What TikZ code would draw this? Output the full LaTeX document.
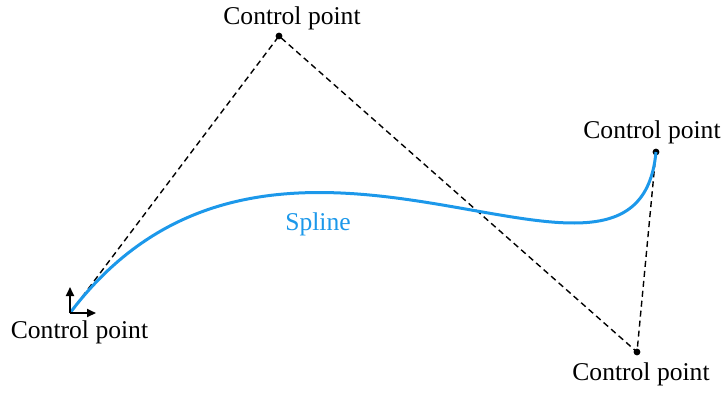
\documentclass[tikz,border=0pt]{standalone}
\usepackage{fontspec}
\setmainfont{Liberation Serif}
\usetikzlibrary{arrows.meta,positioning,calc}
\definecolor{splineblue}{RGB}{28,152,234}

\begin{document}
\begin{tikzpicture}[x=0.5pt,y=-0.5pt,
    lbl/.style={anchor=base,inner sep=0pt,font=\fontsize{12.8}{15}\selectfont},
    ctrl/.style={circle,fill=black,inner sep=0pt,minimum size=3.4pt},
    polygon/.style={draw=black,line width=0.7pt,dash pattern=on 3pt off 2pt},
    spline/.style={draw=splineblue,line width=1.5pt},
    axis/.style={draw=black,line width=1pt,-{Triangle[length=4.5pt,width=4pt]}}]
\useasboundingbox (0,0) rectangle (723,392);
    % control points
\coordinate (p0) at (70,313);
\node[ctrl] (p1) at (279,36) {};
\node[ctrl] (p2) at (656,152) {};
\node[ctrl] (p3) at (637,352) {};
\coordinate (xend) at (96,313);
\coordinate (yend) at (70,287);
    % control polygon and spline
\draw[polygon] (p0) -- (p1.center) -- (p3.center) -- (p2.center);
\draw[spline] (p0) .. controls (p1.center) and (p3.center) .. (p2.center);
    % local frame at the start
\draw[axis] (p0) -- (yend);
\draw[axis] (p0) -- (xend);
    % labels
\node[lbl] (l0) at (79.5,338) {Control point};
\node[lbl] (l1) at (292,24) {Control point};
\node[lbl] (l2) at (652,138) {Control point};
\node[lbl] (l3) at (641,380) {Control point};
\node[lbl,text=splineblue] (ls) at (318,230) {Spline};
\end{tikzpicture}
\end{document}
